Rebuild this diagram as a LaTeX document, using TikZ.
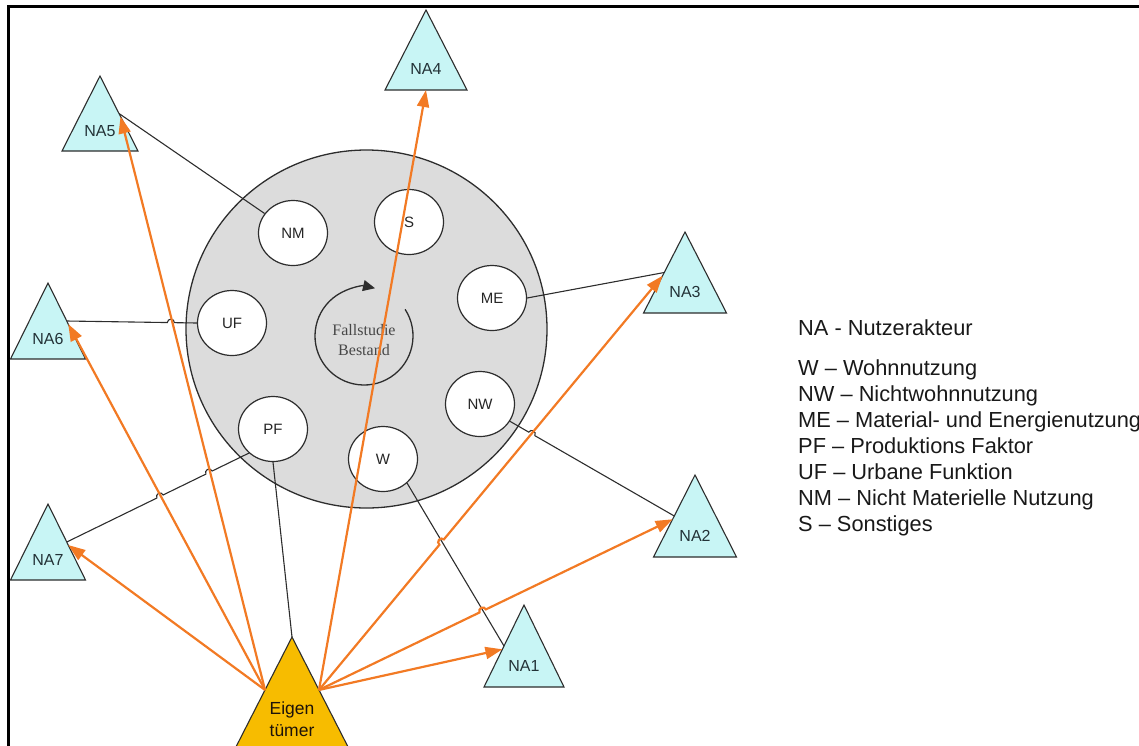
\documentclass[tikz,border=0pt]{standalone}
\usepackage{fontspec}
\setmainfont{Liberation Sans}
\newfontfamily\serifface{Liberation Serif}
\usetikzlibrary{arrows.meta,shapes.geometric,calc}

\definecolor{naFill}{RGB}{200,245,245}
\definecolor{eigFill}{RGB}{247,188,0}
\definecolor{linkOrange}{RGB}{242,122,36}
\definecolor{discGray}{RGB}{220,220,220}
\definecolor{edgeGray}{RGB}{45,45,45}
\definecolor{labelDark}{RGB}{35,50,55}

% user actor: name, apex x, apex y (downwards), half base width, height, label
\newcommand\actor[6]{%
  \coordinate (#1-t) at (#2,-#3);
  \coordinate (#1-bl) at ($(#1-t)+(-#4,-#5)$);
  \coordinate (#1-br) at ($(#1-t)+(#4,-#5)$);
  \draw[actorbox] (#1-t) -- (#1-br) -- (#1-bl) -- cycle;
  \coordinate (#1-l) at ($(#1-t)!0.5!(#1-bl)$);
  \coordinate (#1-r) at ($(#1-t)!0.5!(#1-br)$);
  \coordinate (#1-la) at ($(#1-t)!0.54!(#1-bl)$);
  \coordinate (#1-ra) at ($(#1-t)!0.54!(#1-br)$);
  \coordinate (#1-b) at ($(#1-bl)!0.5!(#1-br)$);
  \node[actorlabel] (#1) at ($(#1-t)+(0,-0.74*#5)$) {#6};
}

\begin{document}
\begin{tikzpicture}[x=1pt,y=1pt,
  every node/.style={inner sep=0pt},
  frameline/.style={line width=2.2pt, draw=black},
  disc/.style={ellipse, draw=edgeGray, line width=1.3pt, fill=discGray,
    minimum width=361pt, minimum height=358pt},
  usecirc/.style={ellipse, draw=edgeGray, line width=1.2pt, fill=white,
    minimum width=69pt, minimum height=65pt,
    font=\fontsize{15}{18}\selectfont, text=black!85},
  actorbox/.style={draw=edgeGray, line width=1.1pt, fill=naFill},
  actorlabel/.style={font=\fontsize{16}{19}\selectfont, text=labelDark},
  link/.style={draw=edgeGray, line width=1.1pt},
  push/.style={draw=linkOrange, line width=2.2pt,
    -{Triangle[length=17pt,width=12pt]}},
  legend/.style={anchor=base west, font=\fontsize{21.8}{26}\selectfont, text=black!90},
]
\path[use as bounding box] (0,0) rectangle (1139,-745);
\clip (0,0) rectangle (1139,-745);

% frame
\draw[frameline] (8.5,-746) -- (8.5,-6.5) -- (1140,-6.5);

% building stock with its uses
\node[disc] (stock) at (366.5,-329) {};
\node[usecirc] (nm) at (293,-233) {NM};
\node[usecirc] (s)  at (409,-222) {S};
\node[usecirc] (me) at (492,-298) {ME};
\node[usecirc] (uf) at (232,-323) {UF};
\node[usecirc] (nw) at (480,-404) {NW};
\node[usecirc] (pf) at (273,-429) {PF};
\node[usecirc] (w)  at (383,-459) {W};

% case study with circular arrow
\node[font=\serifface\fontsize{16}{19.5}\selectfont, align=center, text=black!72]
  (case) at (364,-340) {Fallstudie\\Bestand};
\coordinate (cyc) at (364,-336);
\draw[line width=1.3pt, draw=edgeGray, -{Triangle[length=12pt,width=11pt]}]
  ($(cyc)+(33:49)$) arc[start angle=33, end angle=-283, radius=49];

% user actors
\actor{na5}{100}{76}{38}{75}{NA5}
\actor{na6}{48}{283}{37.5}{76}{NA6}
\actor{na7}{48}{504}{37.5}{76}{NA7}
\actor{na4}{426}{10}{41}{80}{NA4}
\actor{na3}{685}{232}{41.5}{81}{NA3}
\actor{na2}{695}{475}{41.5}{82}{NA2}
\actor{na1}{524}{605}{40}{82}{NA1}

% owner
\coordinate (eig-t) at (292,-637);
\coordinate (eig-bl) at (214,-790);
\coordinate (eig-br) at (370,-790);
\draw[draw=edgeGray, line width=1.1pt, fill=eigFill] (eig-t) -- (eig-br) -- (eig-bl) -- cycle;
\coordinate (eig-l) at ($(eig-t)!0.346!(eig-bl)$);
\coordinate (eig-r) at ($(eig-t)!0.346!(eig-br)$);
\node[font=\fontsize{17.5}{22}\selectfont, align=center, text=black!85!brown]
  (eig) at (292,-719) {Eigen\\tümer};

% uses linked to actors
\draw[link] (nm) -- (na5-r);
\draw[link] (me.east) -- (na3-l);
\draw[link] (pf.south) -- (eig-t);
\draw[link] (w.-45) -- (na1-l);
\draw[link] let \p1=($(uf.west)-(na6-r)$), \n1={atan2(\y1,\x1)} in
  (na6-r) -- ($(na6-r)!0.80!(uf.west)!3.5pt!(na6-r)$)
  arc[start angle=\n1+180, end angle=\n1, radius=3.5] -- (uf.west);
\draw[link] let \p1=($(pf.225)-(na7-r)$), \n1={atan2(\y1,\x1)} in
  (na7-r) -- ($(na7-r)!0.512!(pf.225)!3.5pt!(na7-r)$)
  arc[start angle=\n1+180, end angle=\n1, radius=3.5]
  -- ($(na7-r)!0.781!(pf.225)!3.5pt!(na7-r)$)
  arc[start angle=\n1+180, end angle=\n1, radius=3.5] -- (pf.225);
\draw[link] let \p1=($(na2-l)-(nw.-30)$), \n1={atan2(\y1,\x1)} in
  (nw.-30) -- ($(nw.-30)!0.133!(na2-l)!3.5pt!(nw.-30)$)
  arc[start angle=\n1+180, end angle=\n1, radius=3.5] -- (na2-l);

% owner's relations to the actors
\draw[push] (eig-l) -- (na7-ra);
\draw[push] (eig-l) -- (na6-ra);
\draw[push] (eig-l) -- (na5-ra);
\draw[push] (eig-r) -- (na4-b);
\draw[push] (eig-r) -- (na1-la);
\draw[push] let \p1=($(na3-la)-(eig-r)$), \n1={atan2(\y1,\x1)} in
  (eig-r) -- ($(eig-r)!0.357!(na3-la)!3.5pt!(eig-r)$)
  arc[start angle=\n1+180, end angle=\n1, radius=3.5] -- (na3-la);
\draw[push] let \p1=($(na2-la)-(eig-r)$), \n1={atan2(\y1,\x1)} in
  (eig-r) -- ($(eig-r)!0.463!(na2-la)!3.5pt!(eig-r)$)
  arc[start angle=\n1+180, end angle=\n1, radius=3.5] -- (na2-la);

% legend
\node[legend] (leg-na) at (798,-335) {NA - Nutzerakteur};
\node[legend] (leg-w)  at (798,-375) {W – Wohnnutzung};
\node[legend] (leg-nw) at (798,-401) {NW – Nichtwohnnutzung};
\node[legend] (leg-me) at (798,-427) {ME – Material- und Energienutzung};
\node[legend] (leg-pf) at (798,-453) {PF – Produktions Faktor};
\node[legend] (leg-uf) at (798,-479) {UF – Urbane Funktion};
\node[legend] (leg-nm) at (798,-505) {NM – Nicht Materielle Nutzung};
\node[legend] (leg-s)  at (798,-531) {S – Sonstiges};
\end{tikzpicture}
\end{document}
